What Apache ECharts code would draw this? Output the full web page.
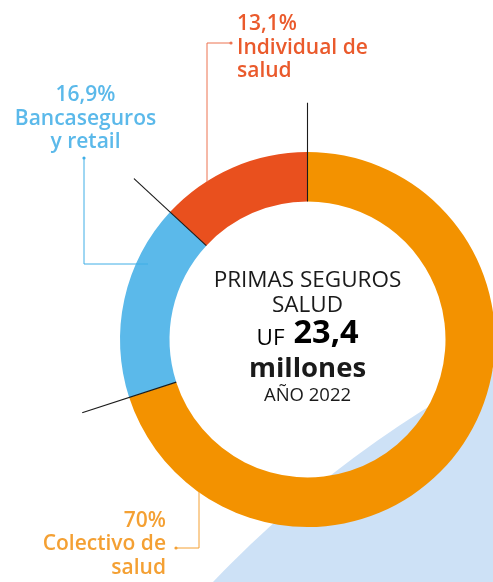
<!DOCTYPE html>
<html>
<head>
<meta charset="utf-8">
<script src="https://cdn.jsdelivr.net/npm/echarts@6/dist/echarts.min.js"></script>
<style>
  html, body { margin: 0; padding: 0; background: #ffffff; }
  #chart { width: 493px; height: 582px; }
</style>
</head>
<body>
<div id="chart"></div>
<script>
// Health insurance premiums by line of business, 2022 (share of total, %)
const categories = ['Colectivo de salud', 'Bancaseguros y retail', 'Individual de salud'];
const labelLines = [['Colectivo de', 'salud'], ['Bancaseguros', 'y retail'], ['Individual de', 'salud']];
const shares = [70, 16.9, 13.1];
const totalUF = 23.4;          // millones de UF
const year = 2022;

const sliceColors = ['#F39200', '#5BB9EA', '#E9501E'];
const textColors = ['#F4A033', '#5BB9EA', '#EA5A2C'];
const leaderColors = ['#F4A033', '#3FAEE6', '#EC7250'];

const cx = 307.5, cy = 339.5, rIn = 138, rOut = 187.5, rSep = 237;
const FONT = 'Open Sans';

const fmtPct = v => String(v).replace('.', ',') + '%';

// slice boundaries (cumulative share) for the separator strokes
const boundaries = [];
shares.reduce((acc, v) => { boundaries.push(acc); return acc + v; }, 0);

// label placement and elbow leader lines, per slice
const labelPlacement = [
  { x: 166, y: 509, align: 'right',
    leader: [[199, 492], [199, 548], [176, 548]] },
  { x: 85.5, y: 83.5, align: 'center',
    leader: [[148, 264], [84, 264], [84, 158]] },
  { x: 237, y: 12.5, align: 'left',
    leader: [[207, 182], [207, 43], [231, 43]] }
];

const chart = echarts.init(document.getElementById('chart'), null, { renderer: 'canvas' });

const pieData = categories.map((name, i) => ({
  name: name,
  value: shares[i],
  itemStyle: { color: sliceColors[i] },
  label: { color: textColors[i] }
}));

const separatorSeries = boundaries.map(b => ({
  type: 'line',
  coordinateSystem: 'polar',
  data: [[rIn, b], [rSep, b]],
  symbol: 'none',
  silent: true,
  z: 5,
  lineStyle: { color: '#1b1b1b', width: 1.1 }
}));

// elbow leaders drawn above the ring, each ending in a small dot
const leaders = [];
labelPlacement.forEach((p, i) => {
  const end = p.leader[p.leader.length - 1];
  leaders.push({ type: 'polyline', z: 100, silent: true,
    shape: { points: p.leader }, style: { stroke: leaderColors[i], lineWidth: 1, fill: null } });
  leaders.push({ type: 'circle', z: 100, silent: true,
    shape: { cx: end[0], cy: end[1], r: 1.6 }, style: { fill: leaderColors[i] } });
});

chart.setOption({
  animation: false,
  backgroundColor: '#ffffff',
  polar: { center: [cx, cy], radius: [0, rSep] },
  angleAxis: { type: 'value', min: 0, max: 100, startAngle: 90, clockwise: true, show: false },
  radiusAxis: { type: 'value', min: 0, max: rSep, show: false },
  graphic: [
    // large pale circle in the lower right corner
    { type: 'circle', z: -10, silent: true,
      shape: { cx: 1018, cy: 1352, r: 1114 }, style: { fill: '#CDE1F6' } },
    ...leaders,
    { type: 'text', z: 100, x: cx, y: 268,
      style: { text: 'PRIMAS SEGUROS\nSALUD', fill: '#1a1a1a', font: '22.5px "' + FONT + '"',
               align: 'center', verticalAlign: 'top', lineHeight: 25 } },
    { type: 'text', z: 100, x: cx, y: 350,
      style: {
        text: '{u|UF}{v|' + String(totalUF).replace('.', ',') + '}',
        align: 'center', verticalAlign: 'bottom',
        rich: {
          u: { fontFamily: FONT, fontSize: 22.5, color: '#1a1a1a', verticalAlign: 'bottom',
               lineHeight: 36, padding: [0, 9, 0, 0] },
          v: { fontFamily: FONT, fontSize: 32.5, fontWeight: 'bold', color: '#1a1a1a',
               verticalAlign: 'bottom', lineHeight: 36 }
        }
      } },
    { type: 'text', z: 100, x: cx, y: 355,
      style: { text: 'millones', fill: '#1a1a1a', font: 'bold 27.5px "' + FONT + '"',
               align: 'center', verticalAlign: 'top' } },
    { type: 'text', z: 100, x: cx, y: 386.5,
      style: { text: 'AÑO ' + year, fill: '#1a1a1a', font: '18.5px "' + FONT + '"',
               align: 'center', verticalAlign: 'top' } }
  ],
  series: [
    {
      type: 'pie',
      center: [cx, cy],
      radius: [rIn, rOut],
      startAngle: 90,
      clockwise: true,
      silent: true,
      avoidLabelOverlap: false,
      z: 2,
      data: pieData,
      label: {
        show: true,
        position: 'outside',
        fontFamily: FONT,
        fontSize: 21,
        fontWeight: 600,
        lineHeight: 23.5,
        formatter: p => [fmtPct(p.value)].concat(labelLines[p.dataIndex]).join('\n')
      },
      labelLine: { show: false },
      labelLayout: p => ({
        x: labelPlacement[p.dataIndex].x,
        y: labelPlacement[p.dataIndex].y,
        align: labelPlacement[p.dataIndex].align,
        verticalAlign: 'top'
      })
    },
    ...separatorSeries
  ]
});
</script>
</body>
</html>
